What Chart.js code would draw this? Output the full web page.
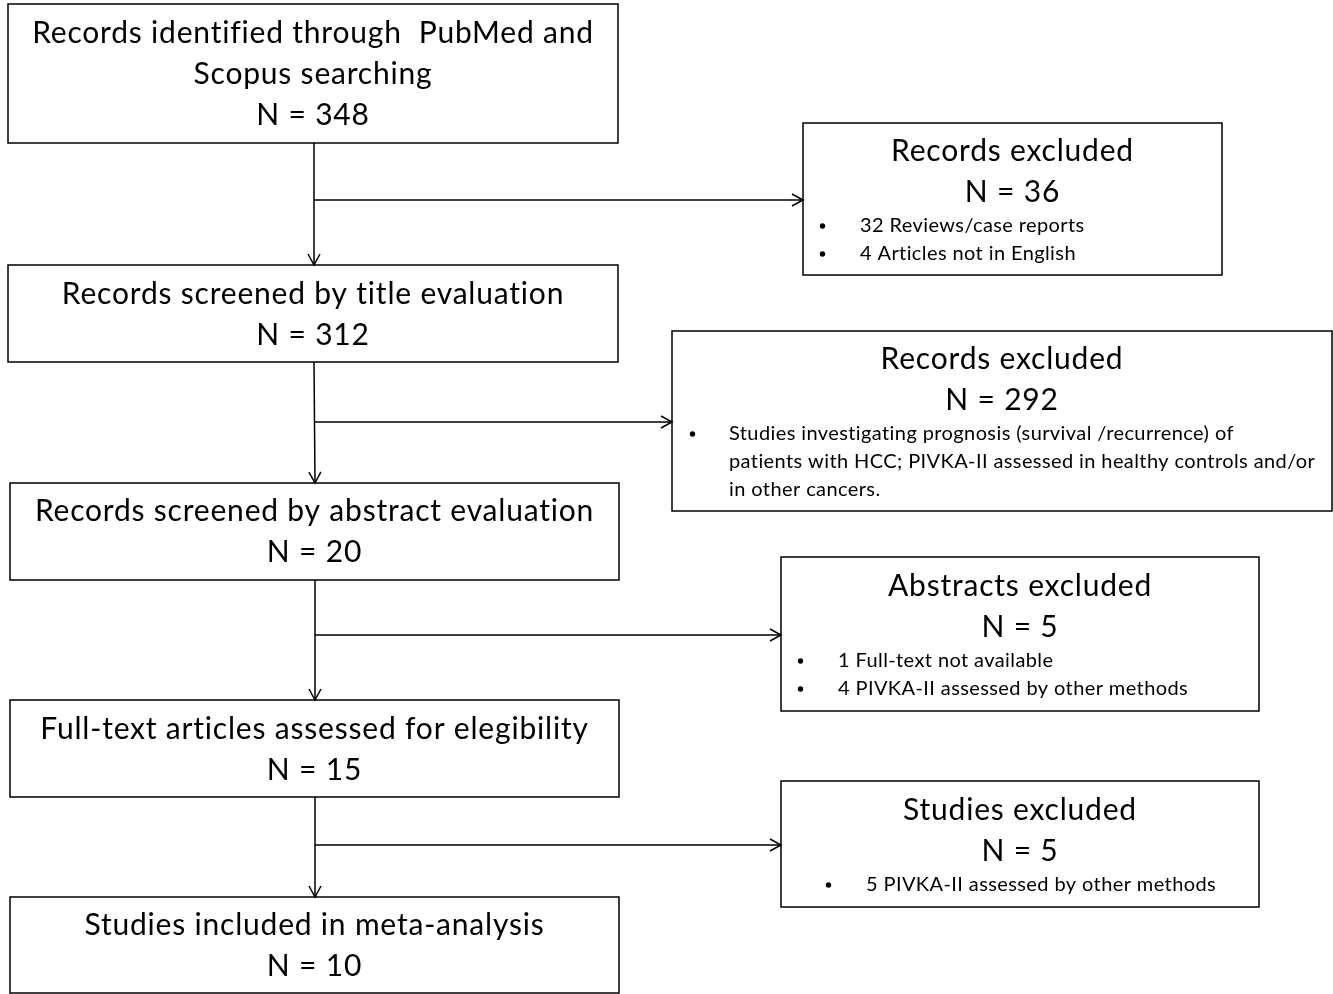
<!DOCTYPE html>
<html>
<head>
<meta charset="utf-8">
<script src="https://cdn.jsdelivr.net/npm/chart.js@4.4.1/dist/chart.umd.min.js"></script>
<style>
  html, body { margin: 0; padding: 0; background: #fff; }
  #wrap { width: 1333px; height: 994px; position: relative; }
</style>
</head>
<body>
<div id="wrap"><canvas id="flowChart"></canvas></div>
<script>
// Main stages (left column)
const stageLabels = [
    ['Records identified through  PubMed and', 'Scopus searching'],
    ['Records screened by title evaluation'],
    ['Records screened by abstract evaluation'],
    ['Full-text articles assessed for elegibility'],
    ['Studies included in meta-analysis']
];
const stageCounts = [348, 312, 20, 15, 10];

// Exclusions (right column)
const excludedLabels = ['Records excluded', 'Records excluded', 'Abstracts excluded', 'Studies excluded'];
const excludedCounts = [36, 292, 5, 5];
const excludedReasons = [
    ['32 Reviews/case reports', '4 Articles not in English'],
    ['Studies investigating prognosis (survival /recurrence) of\npatients with HCC; PIVKA-II assessed in healthy controls and/or\nin other cancers.'],
    ['1 Full-text not available', '4 PIVKA-II assessed by other methods'],
    ['5 PIVKA-II assessed by other methods']
];

// Layout in chart units (x 0..1333, y 0..994 top-down)
const stageBoxes = [
    { x0: 8, x1: 618, y0: 4, y1: 143, top: 33 },
    { x0: 8, x1: 618, y0: 265, y1: 362, top: 294 },
    { x0: 10, x1: 619, y0: 483, y1: 580, top: 511 },
    { x0: 10, x1: 619, y0: 700, y1: 797, top: 729 },
    { x0: 10, x1: 619, y0: 897, y1: 993, top: 925 }
];
const excludedBoxes = [
    { x0: 803, x1: 1222, y0: 123, y1: 275, top: 151, bullet: 820, text: 860 },
    { x0: 672, x1: 1332, y0: 331, y1: 511, top: 359, bullet: 690, text: 729 },
    { x0: 781, x1: 1259, y0: 557, y1: 711, top: 586, bullet: 798, text: 838 },
    { x0: 781, x1: 1259, y0: 781, y1: 907, top: 810, bullet: 826, text: 866 }
];
const connectors = [
    { from: [314, 143], to: [314, 265] },
    { from: [314, 200], to: [803, 200] },
    { from: [314, 362], to: [315, 483] },
    { from: [314, 422], to: [672, 422] },
    { from: [315, 580], to: [315, 700] },
    { from: [315, 635], to: [781, 635] },
    { from: [315, 797], to: [315, 897] },
    { from: [315, 845], to: [781, 845] }
];

const bigFont = '30px Lato';
const bigSpacing = '0.8px';
const smallFont = '20px Lato';
const smallSpacing = '0.4px';
const bigStep = 41;
const smallStep = 28;

// Plugin that draws boxes, texts and arrow heads
const flowPlugin = {
    id: 'flow',
    afterDatasetsDraw(chart) {
        const ctx = chart.ctx;
        const sx = chart.scales.x, sy = chart.scales.y;
        const px = v => sx.getPixelForValue(v);
        const py = v => sy.getPixelForValue(v);
        ctx.save();
        ctx.strokeStyle = '#000';
        ctx.fillStyle = '#000';
        ctx.lineWidth = 1.5;

        // Arrow heads
        connectors.forEach(c => {
            const x1 = px(c.to[0]), y1 = py(c.to[1]);
            const dx = px(c.to[0]) - px(c.from[0]);
            const dy = py(c.to[1]) - py(c.from[1]);
            const len = Math.hypot(dx, dy);
            const ux = dx / len, uy = dy / len;
            ctx.beginPath();
            ctx.moveTo(x1 - ux * 11 - uy * 6, y1 - uy * 11 + ux * 6);
            ctx.lineTo(x1, y1);
            ctx.lineTo(x1 - ux * 11 + uy * 6, y1 - uy * 11 - ux * 6);
            ctx.stroke();
        });

        ctx.textBaseline = 'middle';

        // Left stages
        stageBoxes.forEach((b, i) => {
            ctx.strokeRect(px(b.x0), py(b.y0), px(b.x1) - px(b.x0), py(b.y1) - py(b.y0));
            ctx.font = bigFont;
            ctx.letterSpacing = bigSpacing;
            ctx.textAlign = 'center';
            const cx = px((b.x0 + b.x1) / 2);
            const lines = stageLabels[i].concat(['N = ' + stageCounts[i]]);
            lines.forEach((t, j) => ctx.fillText(t, cx, py(b.top + j * bigStep)));
        });

        // Right exclusions
        excludedBoxes.forEach((b, i) => {
            ctx.strokeRect(px(b.x0), py(b.y0), px(b.x1) - px(b.x0), py(b.y1) - py(b.y0));
            ctx.font = bigFont;
            ctx.letterSpacing = bigSpacing;
            ctx.textAlign = 'center';
            const cx = px((b.x0 + b.x1) / 2);
            ctx.fillText(excludedLabels[i], cx, py(b.top));
            ctx.fillText('N = ' + excludedCounts[i], cx, py(b.top + bigStep));
            ctx.font = smallFont;
            ctx.letterSpacing = smallSpacing;
            ctx.textAlign = 'left';
            let row = 0;
            excludedReasons[i].forEach(reason => {
                reason.split('\n').forEach((t, k) => {
                    const yy = py(b.top + bigStep + 34 + row * smallStep);
                    if (k === 0) {
                        ctx.beginPath();
                        ctx.arc(px(b.bullet) + 2.5, yy, 2.7, 0, Math.PI * 2);
                        ctx.fill();
                    }
                    ctx.fillText(t, px(b.text), yy);
                    row++;
                });
            });
        });
        ctx.restore();
    }
};

const ctx = document.getElementById('flowChart').getContext('2d');
new Chart(ctx, {
    type: 'scatter',
    data: {
        datasets: connectors.map(c => ({
            data: [{ x: c.from[0], y: c.from[1] }, { x: c.to[0], y: c.to[1] }],
            showLine: true,
            borderColor: '#000',
            borderWidth: 1.5,
            pointRadius: 0,
            clip: false
        }))
    },
    options: {
        responsive: true,
        maintainAspectRatio: false,
        animation: false,
        devicePixelRatio: 1,
        layout: { padding: 0 },
        plugins: { legend: { display: false }, tooltip: { enabled: false } },
        scales: {
            x: { type: 'linear', min: 0, max: 1333, display: false },
            y: { type: 'linear', min: 0, max: 994, reverse: true, display: false }
        }
    },
    plugins: [flowPlugin]
});
</script>
</body>
</html>
